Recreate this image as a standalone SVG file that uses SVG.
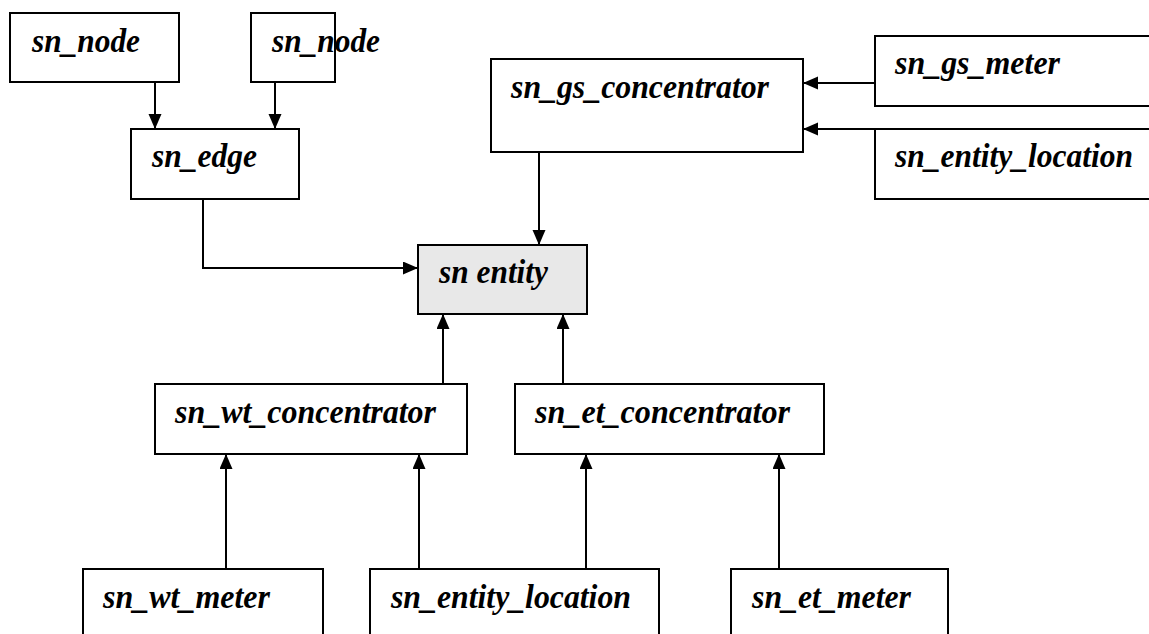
<svg xmlns="http://www.w3.org/2000/svg" width="1149" height="634" viewBox="0 0 1149 634">
<style>
.box{fill:#fff;stroke:#000;stroke-width:2}
.main{fill:#e8e8e8;stroke:#000;stroke-width:2}
.lbl{font-family:'Liberation Serif','DejaVu Serif',serif;font-weight:700;font-style:italic;font-size:34px;fill:#000}
.c{fill:none;stroke:#000;stroke-width:2}
</style>
<defs>
<marker id="ah" markerUnits="userSpaceOnUse" markerWidth="16" markerHeight="14" refX="15" refY="6.5" orient="auto">
<path d="M0,0 L15,6.5 L0,13 z" fill="#000"/>
</marker>
</defs>
<rect width="1149" height="634" fill="#fff"/>
<g id="connectors">
<path class="c" d="M155,82 V129" marker-end="url(#ah)"/>
<path class="c" d="M275,82 V129" marker-end="url(#ah)"/>
<path class="c" d="M203,199 V268 H418" marker-end="url(#ah)"/>
<path class="c" d="M539,152 V245" marker-end="url(#ah)"/>
<path class="c" d="M875,83 H803" marker-end="url(#ah)"/>
<path class="c" d="M875,129 H803" marker-end="url(#ah)"/>
<path class="c" d="M443,384 V314" marker-end="url(#ah)"/>
<path class="c" d="M563,384 V314" marker-end="url(#ah)"/>
<path class="c" d="M226,569 V454" marker-end="url(#ah)"/>
<path class="c" d="M419,569 V454" marker-end="url(#ah)"/>
<path class="c" d="M586,569 V454" marker-end="url(#ah)"/>
<path class="c" d="M779,569 V454" marker-end="url(#ah)"/>
</g>
<g id="sn_node_1"><rect class="box" x="10" y="13" width="169" height="69"/><text class="lbl" x="32" y="52" textLength="108" lengthAdjust="spacingAndGlyphs">sn_node</text></g>
<g id="sn_node_2"><rect class="box" x="251" y="13" width="84" height="69"/><text class="lbl" x="272" y="52" textLength="108" lengthAdjust="spacingAndGlyphs">sn_node</text></g>
<g id="sn_edge"><rect class="box" x="131" y="129" width="168" height="70"/><text class="lbl" x="152" y="167" textLength="105" lengthAdjust="spacingAndGlyphs">sn_edge</text></g>
<g id="sn_entity"><rect class="main" x="418" y="245" width="169" height="69"/><text class="lbl" x="439" y="283" textLength="109" lengthAdjust="spacingAndGlyphs">sn entity</text></g>
<g id="sn_gs_concentrator"><rect class="box" x="491" y="59" width="312" height="93"/><text class="lbl" x="511" y="98" textLength="258" lengthAdjust="spacingAndGlyphs">sn_gs_concentrator</text></g>
<g id="sn_gs_meter"><rect class="box" x="875" y="36" width="277" height="70"/><text class="lbl" x="895" y="74" textLength="165" lengthAdjust="spacingAndGlyphs">sn_gs_meter</text></g>
<g id="sn_entity_location_top"><rect class="box" x="875" y="129" width="277" height="70"/><text class="lbl" x="895" y="167" textLength="238" lengthAdjust="spacingAndGlyphs">sn_entity_location</text></g>
<g id="sn_wt_concentrator"><rect class="box" x="155" y="384" width="312" height="70"/><text class="lbl" x="175" y="423" textLength="261" lengthAdjust="spacingAndGlyphs">sn_wt_concentrator</text></g>
<g id="sn_et_concentrator"><rect class="box" x="515" y="384" width="309" height="70"/><text class="lbl" x="535" y="423" textLength="255" lengthAdjust="spacingAndGlyphs">sn_et_concentrator</text></g>
<g id="sn_wt_meter"><rect class="box" x="83" y="569" width="240" height="68"/><text class="lbl" x="103" y="608" textLength="167" lengthAdjust="spacingAndGlyphs">sn_wt_meter</text></g>
<g id="sn_entity_location_bottom"><rect class="box" x="370" y="569" width="289" height="68"/><text class="lbl" x="391" y="608" textLength="240" lengthAdjust="spacingAndGlyphs">sn_entity_location</text></g>
<g id="sn_et_meter"><rect class="box" x="731" y="569" width="217" height="68"/><text class="lbl" x="752" y="608" textLength="159" lengthAdjust="spacingAndGlyphs">sn_et_meter</text></g>
</svg>
